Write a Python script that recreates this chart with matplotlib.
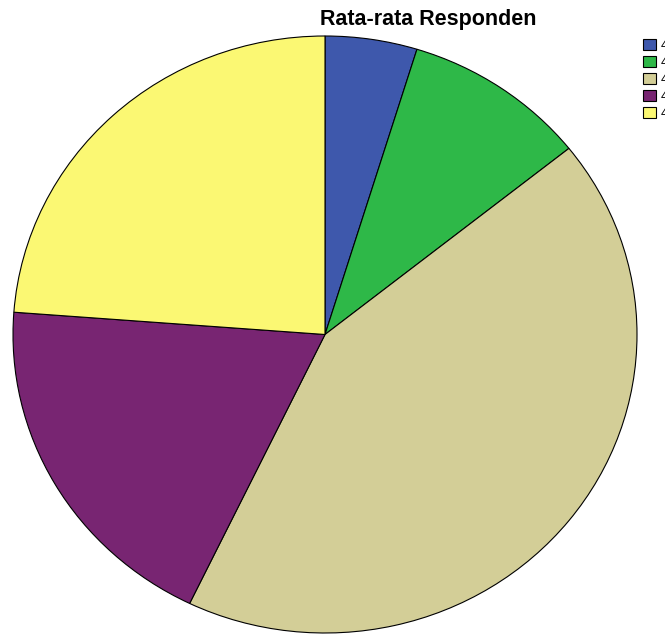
import matplotlib.pyplot as plt

labels = ['4.00', '4.20', '4.40', '4.60', '4.80']
counts = [1, 2, 9, 4, 5]
colors = ['#3E58AC', '#2EB848', '#D3CE97', '#782572', '#FBF873']

plt.rcParams['font.family'] = ['Liberation Sans', 'DejaVu Sans']

W, H = 665, 635
fig = plt.figure(figsize=(W / 100, H / 100), dpi=100)

# pie is a bit wider than tall in the reference (SPSS stretch)
cx, cy, rx, ry = 325, 334.5, 312, 298.5
ax = fig.add_axes([(cx - rx) / W, (H - cy - ry) / H, 2 * rx / W, 2 * ry / H])
wedges, _ = ax.pie(counts, colors=colors, startangle=90, counterclock=False,
                   radius=1, wedgeprops=dict(edgecolor='black', linewidth=0.8))
ax.set_xlim(-1, 1)
ax.set_ylim(-1, 1)
ax.set_aspect('auto')
ax.axis('off')

fig.text(428 / W, 1 - 20 / H, 'Rata-rata Responden', ha='center', va='center',
         fontsize=15.5, fontweight='bold')

fig.legend(wedges, labels, loc='upper left', bbox_to_anchor=(638 / W, 1 - 34 / H),
           frameon=False, fontsize=9, handlelength=1.0, handleheight=0.95,
           handletextpad=0.4, labelspacing=0.35, borderaxespad=0)

fig.savefig('out.png', dpi=100)
